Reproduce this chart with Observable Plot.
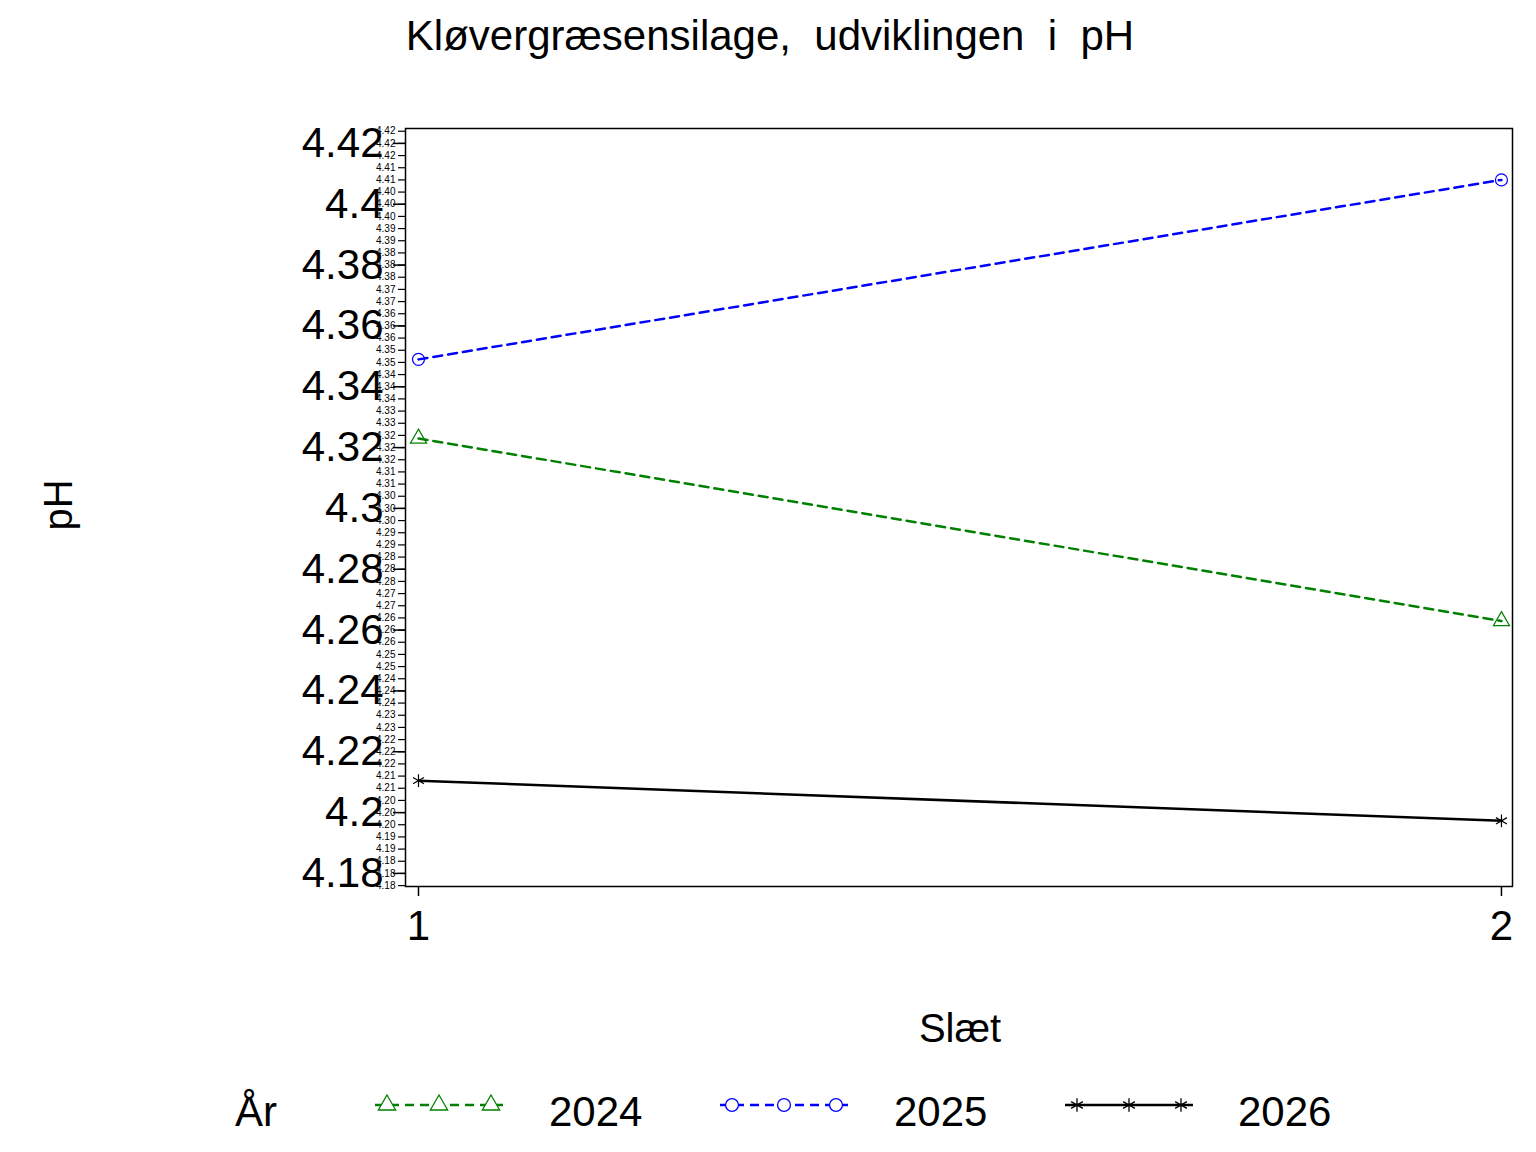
<!DOCTYPE html>
<html><head><meta charset="utf-8">
<script src="https://cdn.jsdelivr.net/npm/d3@7"></script>
<script src="https://cdn.jsdelivr.net/npm/@observablehq/plot@0.6"></script>
<style>
body{margin:0;background:#fff;font-family:"Liberation Sans",Arial,sans-serif;}
#wrap{position:relative;width:1536px;height:1152px;}
#title{position:absolute;top:12px;left:0;width:1536px;text-align:center;font-size:42px;}
#chart{position:absolute;top:80px;left:0;}
#legend{position:absolute;top:1075px;left:0;}
</style></head><body>
<div id="wrap">
<div id="title"><span style="position:relative;left:2px">Kløvergræsensilage,&nbsp; udviklingen&nbsp; i&nbsp; pH</span></div>
<div id="chart"></div>
<svg id="legend" width="1536" height="70"></svg>
</div>
<script>
const slaet = [1, 2];
const years = ["2024", "2025", "2026"];
const ph2024 = [4.323, 4.263];
const ph2025 = [4.349, 4.408];
const ph2026 = [4.2105, 4.1973];
const colors = ["#008000", "#0000ff", "#000000"];
const dashes = ["9,6", "9,6", null];
const symbols = ["triangle", "circle", "asterisk"];
const yTicks = d3.range(4.18, 4.4201, 0.02).map(v => +v.toFixed(2));
const yMinor = d3.range(4.176, 4.4241, 0.004).map(v => +v.toFixed(3));

const series = [ph2024, ph2025, ph2026];
const data = series.flatMap((s, i) => s.map((v, j) => ({x: slaet[j], y: v, year: years[i]})));

const marks = [Plot.frame({stroke: "black", strokeWidth: 1.5})];
years.forEach((yr, i) => {
  const d = data.filter(r => r.year === yr);
  marks.push(Plot.line(d, {x: "x", y: "y", stroke: colors[i], strokeWidth: 2.5, strokeDasharray: dashes[i]}));
  marks.push(Plot.dot(d, {x: "x", y: "y", stroke: colors[i], symbol: symbols[i], r: 6, strokeWidth: 1.2}));
});
marks.push(Plot.axisY({ticks: yMinor, tickFormat: null, tickSize: 7, label: null, strokeWidth: 1.2}));
marks.push(Plot.axisY({ticks: yTicks, tickFormat: d => String(+d.toFixed(2)), tickSize: 12, fontSize: 42, tickPadding: 10, label: null, strokeWidth: 1.5}));
marks.push(Plot.axisX({ticks: slaet, tickFormat: d => String(d), tickSize: 10, fontSize: 42, tickPadding: 14, label: null, strokeWidth: 1.5}));

const chart = Plot.plot({
  width: 1536, height: 990,
  marginLeft: 405, marginRight: 24, marginTop: 48, marginBottom: 184,
  x: {type: "linear", domain: [1 - 0.012, 2 + 0.0102]},
  y: {domain: [4.1757, 4.4249]},
  style: {fontFamily: "Liberation Sans, Arial, sans-serif", color: "black"},
  marks
});
document.getElementById("chart").appendChild(chart);
const svg = d3.select(chart);
svg.append("text").attr("x", 960).attr("y", 962).attr("text-anchor","middle")
  .attr("font-size", 40).text("Slæt");
svg.append("text").attr("transform", "translate(72,425) rotate(-90)").attr("text-anchor","middle")
  .attr("font-size", 40).text("pH");

const lg = d3.select("#legend");
lg.append("text").attr("x", 235).attr("y", 51).attr("font-size", 42).text("År");
const starts = [375, 720, 1065], labels = [549, 894, 1238];
years.forEach((yr, i) => {
  const x0 = starts[i];
  lg.append("line").attr("x1", x0).attr("x2", x0 + 128).attr("y1", 30).attr("y2", 30)
    .attr("stroke", colors[i]).attr("stroke-width", 2.5).attr("stroke-dasharray", dashes[i]);
  [12, 64, 116].forEach(o => {
    lg.append("path").attr("d", d3.symbol(d3[{triangle:"symbolTriangle",circle:"symbolCircle",asterisk:"symbolAsterisk"}[symbols[i]]], 130)())
      .attr("transform", `translate(${x0 + o},30)`).attr("fill", symbols[i]==="asterisk"?"none":"white").attr("stroke", colors[i]).attr("stroke-width", 1.3);
  });
  lg.append("text").attr("x", labels[i]).attr("y", 51).attr("font-size", 42).text(yr);
});
</script>
</body></html>
